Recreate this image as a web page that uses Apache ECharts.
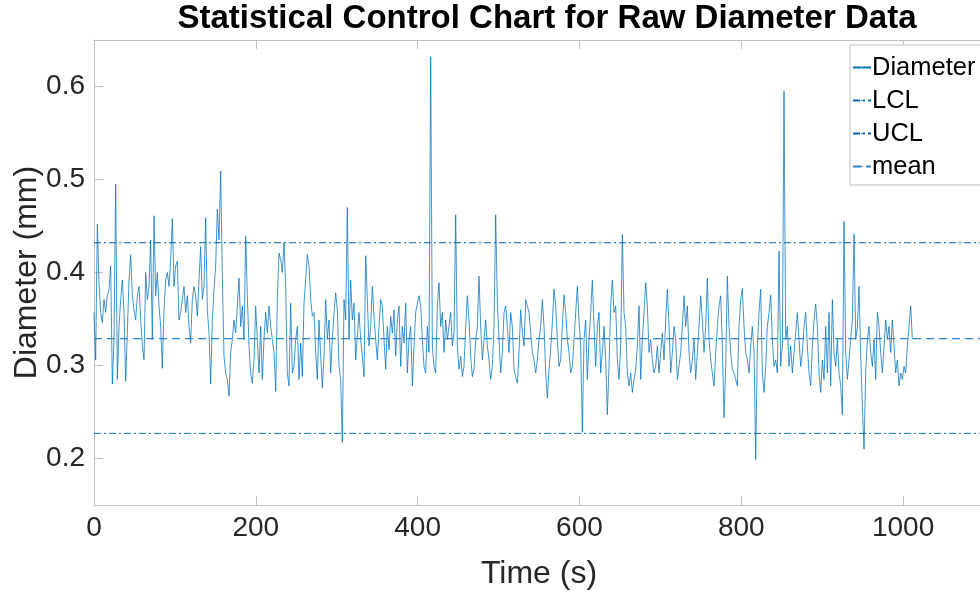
<!DOCTYPE html>
<html><head><meta charset="utf-8">
<script src="https://cdn.jsdelivr.net/npm/echarts@6/dist/echarts.min.js"></script>
<style>html,body{margin:0;padding:0;background:#fff}#c{width:980px;height:594px}</style>
</head><body><div id="c"></div>
<script>
// sampling period of the diameter record (s)
const sampleStep = 2.06;
// diameter readings (mm)
const diameter = [
0.357,0.306,0.452,0.389,0.357,0.346,0.371,0.357,0.375,0.382,0.407,0.280,0.328,0.495,0.285,0.342,0.371,0.392,0.357,0.283,
0.335,0.392,0.419,0.375,0.360,0.349,0.375,0.385,0.349,0.321,0.306,0.400,0.371,0.385,0.435,0.328,0.461,0.375,0.400,0.364,
0.342,0.297,0.360,0.392,0.400,0.385,0.414,0.458,0.385,0.407,0.412,0.349,0.357,0.371,0.385,0.357,0.375,0.342,0.324,0.371,
0.385,
0.375,0.353,0.392,0.428,0.371,0.385,0.459,0.360,0.335,0.280,0.349,0.382,0.407,0.468,0.435,0.509,0.395,0.310,0.292,0.285,
0.267,0.314,0.328,0.349,0.335,0.364,0.394,0.342,0.364,0.328,0.439,0.375,0.321,0.292,0.281,0.306,0.364,0.328,0.292,0.342,
0.285,0.328,0.357,0.335,0.364,0.342,0.328,0.314,0.272,0.371,0.421,0.414,0.400,0.432,0.385,0.292,0.278,0.367,0.292,0.299,
0.328,0.342,0.285,
0.324,0.288,0.367,0.392,0.419,0.407,0.371,0.353,0.357,0.314,0.285,0.349,0.310,0.276,0.310,0.371,0.328,0.349,0.292,0.328,
0.357,0.378,0.360,0.299,0.285,0.217,0.371,0.349,0.470,0.328,0.392,0.349,0.367,0.306,0.332,0.357,0.328,0.310,0.288,0.418,
0.371,0.321,0.342,0.385,0.353,0.328,0.306,0.342,0.371,0.364,0.328,0.296,0.342,0.317,0.353,0.335,0.360,0.310,0.349,0.364,
0.299,0.342,0.324,
0.367,0.292,0.328,0.342,0.278,0.321,0.357,0.367,0.375,0.364,0.328,0.299,0.292,0.342,0.314,0.632,0.321,0.299,0.292,0.364,
0.389,0.342,0.357,0.314,0.349,0.328,0.342,0.357,0.321,0.335,0.462,0.321,0.296,0.310,0.288,0.299,0.342,0.375,0.349,0.310,
0.288,0.296,0.328,0.342,0.396,0.342,0.306,0.328,0.349,0.321,0.306,0.285,0.299,0.342,0.462,0.367,0.328,0.292,0.314,0.357,
0.364,0.342,0.314,
0.357,0.342,0.296,0.288,0.281,0.314,0.360,0.335,0.321,0.371,0.364,0.357,0.335,0.314,0.306,0.292,0.306,0.328,0.342,0.371,
0.342,0.292,0.265,0.296,0.317,0.346,0.382,0.364,0.328,0.299,0.306,0.342,0.376,0.357,0.328,0.314,0.292,0.299,0.328,0.357,
0.385,0.349,0.321,0.228,0.328,0.349,0.285,0.328,0.357,0.392,0.342,0.299,0.342,0.357,0.292,0.314,0.342,0.306,0.247,0.299,
0.364,0.392,0.357,
0.364,0.306,0.285,0.321,0.441,0.357,0.342,0.292,0.278,0.292,0.271,0.285,0.296,0.321,0.364,0.285,0.328,0.357,0.389,0.364,
0.314,0.328,0.306,0.292,0.299,0.321,0.292,0.314,0.335,0.306,0.349,0.382,0.342,0.292,0.314,0.342,0.328,0.285,0.299,0.314,
0.342,0.375,0.342,0.364,0.314,0.292,0.306,0.328,0.285,0.314,0.342,0.375,0.349,0.314,0.342,0.394,0.328,0.306,0.292,0.278,
0.314,0.342,0.364,
0.375,0.321,0.244,0.299,0.396,0.342,0.314,0.296,0.292,0.285,0.278,0.342,0.371,0.383,0.342,0.314,0.306,0.292,0.321,0.342,
0.314,0.199,0.321,0.357,0.382,0.292,0.271,0.299,0.342,0.357,0.376,0.328,0.299,0.306,0.292,0.423,0.299,0.321,0.595,0.328,
0.342,0.299,0.321,0.292,0.314,0.335,0.357,0.328,0.299,0.314,0.342,0.357,0.321,0.292,0.278,0.321,0.349,0.366,0.342,0.292,
0.271,0.306,0.285,
0.342,0.292,0.357,0.278,0.371,0.314,0.299,0.328,0.292,0.278,0.247,0.455,0.314,0.285,0.306,0.328,0.349,0.441,0.328,0.342,
0.385,0.310,0.256,0.210,0.292,0.328,0.342,0.314,0.299,0.328,0.285,0.357,0.342,0.314,0.292,0.321,0.349,0.328,0.342,0.314,
0.349,0.321,0.292,0.306,0.278,0.292,0.285,0.299,0.292,0.321,0.342,0.364,0.328
];
// control limits (mm)
const LCL = 0.227;
const UCL = 0.432;
const MEAN = 0.329;
// axes
const xMin = 0, xMax = 1100, xStep = 200;
const yMin = 0.15, yMax = 0.65;
const yTicks = [0.2, 0.3, 0.4, 0.5, 0.6];

const FONT = 'Liberation Sans, Arial, Helvetica, sans-serif';
const AX = '#c0c0c0';
const TXT = '#262626';

const diaData = diameter.map((v, i) => [+(i * sampleStep).toFixed(2), v]);
const hline = v => [[xMin, v], [xMax, v]];

const chart = echarts.init(document.getElementById('c'), null, {renderer: 'canvas'});
chart.setOption({
  animation: false,
  backgroundColor: '#ffffff',
  textStyle: {fontFamily: FONT},
  title: {
    text: 'Statistical Control Chart for Raw Diameter Data',
    left: 542, top: -3, textAlign: 'center',
    textStyle: {fontFamily: FONT, fontSize: 33, fontWeight: 'bold', color: '#000'}
  },
  grid: {left: 94, top: 40, width: 890, height: 465, containLabel: false, outerBoundsMode: 'none'},
  legend: {
    orient: 'vertical', left: 850, top: 45,
    data: ['Diameter', 'LCL', 'UCL', 'mean'],
    itemWidth: 18, itemHeight: 2, itemGap: 6,
    padding: [9, 12, 5, 2],
    borderColor: '#c0c0c0', borderWidth: 1, backgroundColor: '#ffffff',
    textStyle: {fontFamily: FONT, fontSize: 25.5, color: '#000', padding: [0, 0, 0, -4], lineHeight: 27}
  },
  xAxis: [{
    type: 'value', min: xMin, max: xMax, interval: xStep,
    name: 'Time (s)', nameLocation: 'middle', nameGap: 53, nameMoveOverlap: false,
    nameTextStyle: {fontFamily: FONT, fontSize: 32, color: TXT},
    axisLine: {show: true, lineStyle: {color: AX, width: 1}},
    axisTick: {show: true, inside: true, length: 9, lineStyle: {color: AX}},
    axisLabel: {fontFamily: FONT, fontSize: 28, color: TXT, margin: 9, showMaxLabel: false,
      formatter: v => String(v)},
    splitLine: {show: false}
  }, {
    type: 'value', min: xMin, max: xMax, interval: xStep, position: 'top',
    axisLine: {show: true, lineStyle: {color: AX, width: 1}},
    axisTick: {show: true, inside: true, length: 9, lineStyle: {color: AX}},
    axisLabel: {show: false}, splitLine: {show: false}
  }],
  yAxis: [{
    type: 'value', min: yMin, max: yMax,
    name: 'Diameter (mm)', nameLocation: 'middle', nameGap: 51, nameMoveOverlap: false,
    nameTextStyle: {fontFamily: FONT, fontSize: 32, color: TXT},
    axisLine: {show: true, lineStyle: {color: AX, width: 1}},
    axisTick: {show: true, inside: true, length: 9, lineStyle: {color: AX}, customValues: yTicks},
    axisLabel: {fontFamily: FONT, fontSize: 28, color: TXT, margin: 9, customValues: yTicks,
      formatter: v => (+v).toFixed(1)},
    splitLine: {show: false}
  }],
  series: [{
    name: 'Diameter', type: 'line', data: diaData, showSymbol: false, symbol: 'none',
    lineStyle: {color: '#0072BD', width: 0.75},
    itemStyle: {color: '#7fb6e0'}, z: 2
  }, {
    name: 'LCL', type: 'line', data: hline(LCL), symbol: 'none',
    lineStyle: {color: '#0a6fb8', width: 1, type: [7, 3, 2, 3]}, itemStyle: {color: '#0a6fb8'}, z: 3
  }, {
    name: 'UCL', type: 'line', data: hline(UCL), symbol: 'none',
    lineStyle: {color: '#0a5e9f', width: 1, type: [7, 3, 2, 3]}, itemStyle: {color: '#0a5e9f'}, z: 3
  }, {
    name: 'mean', type: 'line', data: hline(MEAN), symbol: 'none',
    lineStyle: {color: '#2a86cf', width: 1.2, type: [8, 5]}, itemStyle: {color: '#2a86cf'}, z: 3
  }]
});
</script>
</body></html>
